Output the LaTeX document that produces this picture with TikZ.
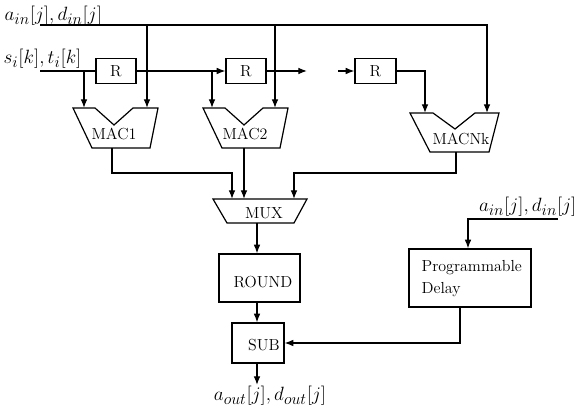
\documentclass[tikz,border=0pt]{standalone}
\usetikzlibrary{arrows.meta}
\DeclareMathSizes{14}{14}{11.5}{9}
\begin{document}
\begin{tikzpicture}[x=0.75pt,y=-0.75pt,line width=0.9pt,
  sig/.style={-{Latex[length=6.5pt,width=5pt]}},
  box/.style={draw,rectangle,inner sep=0pt},
  txt/.style={font=\fontsize{12}{16.5}\selectfont,inner sep=0pt},
  mlbl/.style={font=\fontsize{14}{16}\selectfont,inner sep=0pt},
  unit/.style={draw,line join=miter}]
\useasboundingbox (0,0) rectangle (578,416);

% ---------- input labels ----------
\node[mlbl,anchor=base west] (ain) at (4,21) {$a_{in}[j], d_{in}[j]$};
\node[mlbl,anchor=base west] (sin) at (3,64) {$s_i[k], t_i[k]$};
\coordinate (busL) at (40,25);
\coordinate (sL) at (40,71);

% ---------- register chain ----------
\node[box,minimum width=30pt,minimum height=18.75pt] (r1) at (116,71) {};
\node[box,minimum width=30pt,minimum height=18.75pt] (r2) at (246,71) {};
\node[box,minimum width=30.75pt,minimum height=18.75pt] (r3) at (375.5,71) {};
\node[txt] (r1t) at (r1) {R};
\node[txt] (r2t) at (r2) {R};
\node[txt] (r3t) at (r3) {R};
\coordinate (gapA) at (307,71);
\coordinate (gapB) at (338,71);

% ---------- MAC units ----------
\draw[unit] (73,108) -- (95,108) -- (114,125) -- (133,108) -- (158,108)
  -- (150,148) -- (92,148) -- cycle;
\draw[unit] (203,108) -- (225,108) -- (244,125) -- (263,108) -- (288,108)
  -- (280,148) -- (222,148) -- cycle;
\draw[unit] (410,113) -- (433,113) -- (455,129) -- (475,113) -- (499,113)
  -- (489,152) -- (430,152) -- cycle;
\node[txt,anchor=base] (mac1) at (114,140) {MAC1};
\node[txt,anchor=base] (mac2) at (245,140) {MAC2};
\node[txt,anchor=base] (macn) at (461,145) {MACNk};
\coordinate (m1l) at (84,108);  \coordinate (m1r) at (147,108);
\coordinate (m2l) at (212,108); \coordinate (m2r) at (275,108);
\coordinate (mnl) at (425,113); \coordinate (mnr) at (487,113);
\coordinate (m1o) at (112,148);
\coordinate (m2o) at (244,148);
\coordinate (mno) at (456,152);

% ---------- MUX ----------
\draw[unit] (213,199) -- (307,199) -- (294,223) -- (227,223) -- cycle;
\node[txt,anchor=base] (mux) at (264,219) {MUX};
\coordinate (x1) at (232,199);
\coordinate (x2) at (244,199);
\coordinate (x3) at (294,199);
\coordinate (muxo) at (257,223);

% ---------- ROUND, SUB, delay ----------
\node[box,minimum width=60.75pt,minimum height=36pt] (round) at (259.5,278) {};
\node[txt,anchor=base] (roundt) at (263,288) {ROUND};
\node[box,minimum width=39pt,minimum height=30pt] (sub) at (258,343) {};
\node[txt,anchor=base] (subt) at (264,351) {SUB};
\node[box,minimum width=91.5pt,minimum height=43.5pt] (delay) at (470,278) {};
\node[txt,anchor=west,align=left] (delayt) at (421,279) {Programmable\\Delay};

\node[mlbl,anchor=base east] (ain2) at (577,212) {$a_{in}[j], d_{in}[j]$};
\coordinate (dinR) at (558,219);
\coordinate (dcol) at (468,0);
\coordinate (docol) at (460,0);
\node[mlbl] (aout) at (270,396) {$a_{out}[j], d_{out}[j]$};
\coordinate (outE) at (257,385);

% ---------- connections ----------
% broadcast bus
\draw[sig] (busL) -| (mnr);
\draw[sig] (m1r |- busL) -- (m1r);
\draw[sig] (m2r |- busL) -- (m2r);
% shift chain
\draw (sL) -- (r1.west);
\draw[sig] (m1l |- sL) -- (m1l);
\draw[sig] (r1.east) -- (r2.west);
\draw[sig] (m2l |- sL) -- (m2l);
\draw[sig] (r2.east) -- (gapA);
\draw[sig] (gapB) -- (r3.west);
\draw[sig] (r3.east) -| (mnl);
% MAC outputs into MUX
\draw[sig] (m1o) |- (x1 |- 0,173) -- (x1);
\draw[sig] (m2o) -- (x2);
\draw[sig] (mno) |- (x3 |- 0,173) -- (x3);
% datapath
\draw[sig] (muxo) -- (muxo |- round.north);
\draw[sig] (muxo |- round.south) -- (muxo |- sub.north);
\draw[sig] (muxo |- sub.south) -- (outE);
\draw[sig] (dinR) -| (dcol |- delay.north);
\draw[sig] (docol |- delay.south) |- (sub.east);
\end{tikzpicture}
\end{document}
